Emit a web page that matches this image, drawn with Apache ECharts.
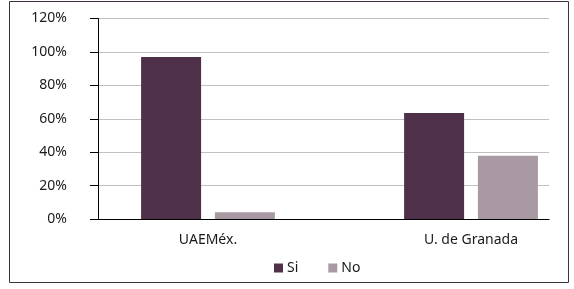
<!DOCTYPE html>
<html>
<head>
<meta charset="utf-8">
<script src="https://cdn.jsdelivr.net/npm/echarts@6/dist/echarts.min.js"></script>
<style>
html,body{margin:0;padding:0;background:#fff;}
#c{width:574px;height:289px;}
</style>
</head>
<body>
<div id="c"></div>
<script>
var categories = ['UAEMéx.', 'U. de Granada'];
var seriesNames = ['Si', 'No'];
var siValues = [97, 63.5];
var noValues = [4, 37.8];
var yTicks = {min: 0, max: 120, interval: 20};

var FONT = 'Noto Sans';
var chart = echarts.init(document.getElementById('c'), null, {renderer: 'canvas'});
chart.setOption({
  animation: false,
  backgroundColor: '#fff',
  graphic: [{
    type: 'rect', silent: true,
    shape: {x: 9.5, y: 1.5, width: 559, height: 281},
    style: {fill: 'none', stroke: '#3e2f40', lineWidth: 1}
  }],
  grid: [
    {left: 98, right: 25, top: 18.5, bottom: 70, containLabel: false},
    {left: 208, right: 103, top: 18.5, bottom: 70, containLabel: false}
  ],
  legend: {
    data: seriesNames,
    left: 274, top: 261, padding: 0,
    itemWidth: 9, itemHeight: 9, itemGap: 30,
    icon: 'rect',
    textStyle: {fontFamily: FONT, fontSize: 14, color: '#1a1a1a', padding: [0, 0, 0, -1]}
  },
  xAxis: [
    {
      type: 'category', gridIndex: 0, data: categories,
      axisLine: {show: true, lineStyle: {color: '#000', width: 1}},
      axisTick: {show: false},
      axisLabel: {show: false},
      splitLine: {show: false}
    },
    {
      type: 'category', gridIndex: 1, data: categories, boundaryGap: false,
      axisLine: {show: false},
      axisTick: {show: false},
      axisLabel: {show: true, margin: 14, fontFamily: FONT, fontSize: 14, color: '#1a1a1a'},
      splitLine: {show: false}
    }
  ],
  yAxis: [
    {
      type: 'value', gridIndex: 0,
      min: yTicks.min, max: yTicks.max, interval: yTicks.interval,
      axisLine: {show: true, lineStyle: {color: '#000', width: 1}},
      axisTick: {show: true, inside: false, length: 8, lineStyle: {color: '#000'}},
      axisLabel: {margin: 31, fontFamily: FONT, fontSize: 14, color: '#1a1a1a', formatter: '{value}%'},
      splitLine: {show: true, lineStyle: {color: '#c0c0c0', width: 1}}
    },
    {
      type: 'value', gridIndex: 1,
      min: yTicks.min, max: yTicks.max, interval: yTicks.interval,
      show: false,
      splitLine: {show: false}
    }
  ],
  series: [
    {
      name: seriesNames[0], type: 'bar', xAxisIndex: 1, yAxisIndex: 1,
      data: siValues, barWidth: 60, barGap: '23%',
      itemStyle: {color: '#4f3049'}
    },
    {
      name: seriesNames[1], type: 'bar', xAxisIndex: 1, yAxisIndex: 1,
      data: noValues, barWidth: 60, barGap: '23%',
      itemStyle: {color: '#a899a2'}
    }
  ]
});
</script>
</body>
</html>
